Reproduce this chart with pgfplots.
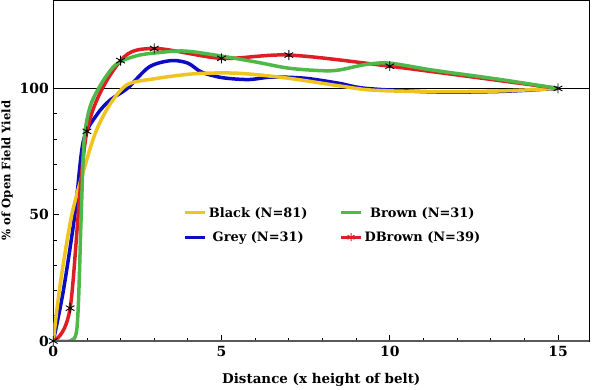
\documentclass[border=0pt]{standalone}
\usepackage{fontspec}
\setmainfont{DejaVu Serif}
\usepackage{pgfplots}
\pgfplotsset{compat=1.18}
\definecolor{cyel}{RGB}{240,196,32}
\definecolor{cgrn}{RGB}{78,184,72}
\definecolor{cblu}{RGB}{12,12,196}
\definecolor{cred}{RGB}{222,30,36}
\begin{document}
\begin{tikzpicture}
\begin{axis}[
 scale only axis, width=536bp, height=341bp,
 xmin=0, xmax=15.93, ymin=0, ymax=135,
 xtick={0,5,10,15}, ytick={0,50,100},
 minor x tick num=4, minor y tick num=4,
 tick align=inside, xtick pos=left, ytick pos=left,
 major tick length=6bp, minor tick length=3.5bp,
 tick style={black, line width=0.8bp},
 axis line style={black, line width=0.8bp},
 /pgf/number format/assume math mode=true,
 tick label style={font=\fontsize{14}{14}\selectfont\bfseries},
 xticklabel style={yshift=-2bp},
 yticklabel style={xshift=-1bp},
 xlabel={Distance (x height of belt)},
 ylabel={\% of Open Field Yield},
 xlabel style={font=\fontsize{13.5}{14}\selectfont\bfseries, at={(axis description cs:0.5,-0.114)}, anchor=center},
 ylabel style={font=\fontsize{11.7}{12}\selectfont\bfseries, at={(axis description cs:-0.086,0.5)}, anchor=center},
 legend columns=2,
 legend style={at={(axis description cs:0.522,0.34)}, anchor=center, draw=none, fill=none,
   font=\fontsize{13}{13}\selectfont\bfseries,
   /tikz/every even column/.append style={column sep=30bp}, row sep=9bp},
 legend image code/.code={\draw[mark repeat=2, mark phase=2, #1] plot coordinates {(0bp,0bp) (10bp,0bp) (20bp,0bp)};},
]
\addplot[black, line width=0.8bp, forget plot] coordinates {(0,100) (15.93,100)};
% Grey
\addplot[cblu, line width=3.5bp, smooth, forget plot] coordinates {
(0,0) (0.3,20) (0.64,50) (0.89,79) (1.29,89.5) (1.69,95.4) (2.2,100) (2.85,108.5) (3.5,111) (4,110) (4.4,106.5) (5,104.3) (5.8,103.5) (6.5,104.5) (7.5,104) (8.5,102) (9.3,100) (11.3,98.6) (13.3,98.8) (15,100)};
% Black
\addplot[cyel, line width=3.5bp, smooth, forget plot] coordinates {
(0,0) (0.2,22) (0.55,50) (1,72) (1.3,84) (1.7,94) (2.2,101.5) (3,103.8) (4.2,105.8) (5.5,106) (7,104) (8.5,101) (9.5,99.3) (11.3,98.7) (13.3,99) (15,100)};
% DBrown
\addplot[cred, line width=3.5bp, smooth, forget plot, mark=asterisk, mark size=5bp, mark options={black, line width=0.9bp, solid}] coordinates {
(0,0) (0.5,13) (1,83) (2,111) (3,115.8) (5,111.9) (7,113.2) (10,108.8) (15,100)};
% Brown
\addplot[cgrn, line width=3.5bp, smooth, forget plot] coordinates {
(0,0) (0.5,0) (0.68,3) (0.75,16) (0.83,50) (0.92,80) (1.1,93) (1.39,101) (1.69,107) (1.97,110.5) (2.5,113) (3,114) (3.9,114.8) (5,112.8) (6,110.5) (7,108) (8,107) (8.5,107.3) (9.3,109.5) (10,110) (11.3,107.2) (13.3,103.5) (15,100)};
\draw[gray!70!black, line width=1.6bp] (rel axis cs:0,0) -- (rel axis cs:1,0);
\addlegendimage{cyel, line width=3bp}
\addlegendentry{Black (N=81)}
\addlegendimage{cgrn, line width=3bp}
\addlegendentry{Brown (N=31)}
\addlegendimage{cblu, line width=3bp}
\addlegendentry{Grey (N=31)}
\addlegendimage{cred, line width=3bp, mark=asterisk, mark size=4bp, mark options={cred, line width=1bp}}
\addlegendentry{DBrown (N=39)}
\end{axis}
\pgfresetboundingbox
\useasboundingbox (-53.3bp,-49bp) rectangle (539.7bp,341bp);
\end{tikzpicture}
\end{document}
